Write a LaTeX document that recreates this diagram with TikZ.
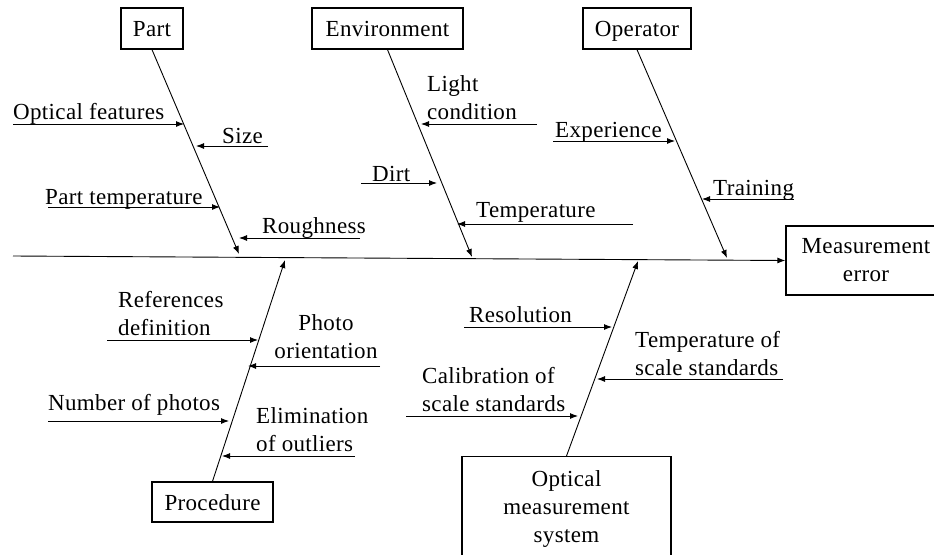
\documentclass[tikz,border=0pt]{standalone}
\usepackage{fontspec}
\setmainfont[LetterSpace=1.5]{Liberation Serif}
\usetikzlibrary{arrows.meta}
\begin{document}
\begin{tikzpicture}[x=1pt,y=-1pt,
  every node/.style={font=\fontsize{23}{28}\selectfont, inner sep=0pt},
  catbox/.style={draw, line width=1.3pt, align=center},
  onebox/.style={catbox, text height=16.5pt, text depth=0pt},
  lbl/.style={anchor=base west, align=left},
  clbl/.style={anchor=base, align=center},
  bone/.style={line width=0.9pt, -{Latex[length=8pt,width=6pt]}},
  cause/.style={line width=0.9pt, -{Latex[length=8pt,width=6pt]}},
]
\useasboundingbox (0,0) rectangle (934,554);
\clip (0,0) rectangle (934,554);

% category boxes
\node[onebox, minimum width=62pt, minimum height=41pt] (part) at (152,28.5) {Part};
\node[onebox, minimum width=151pt, minimum height=41pt] (env) at (387.5,28.5) {Environment};
\node[onebox, minimum width=108pt, minimum height=41pt] (oper) at (637,28.5) {Operator};
\node[catbox, minimum width=160pt, minimum height=69pt] (meas) at (866,260.5) {Measurement\\error};
\node[onebox, minimum width=121pt, minimum height=40pt] (proc) at (212.5,502) {Procedure};
\node[catbox, minimum width=209pt, minimum height=104pt, anchor=north] (optsys) at (566.5,456) {Optical\\measurement\\system};

% spine
\coordinate (sp0) at (13,256);
\draw[bone] (sp0) -- (meas.west);

% bone tips
\coordinate (tpart) at (239,254);
\coordinate (tenv) at (472,257);
\coordinate (toper) at (727,258);
\coordinate (tproc) at (285,260);
\coordinate (topt) at (638,261);

\draw[bone] (part.south) -- (tpart);
\draw[bone] (env.south) -- (tenv);
\draw[bone] (oper.south) -- (toper);
\draw[bone] (proc.north) -- (tproc);
\draw[bone] (optsys.north) -- (topt);

% causes: Part
\coordinate (a1) at (13,124);  \coordinate (b1) at (184,124);
\coordinate (a2) at (268,146); \coordinate (b2) at (196,146);
\coordinate (a3) at (48,207);  \coordinate (b3) at (220,207);
\coordinate (a4) at (360,238); \coordinate (b4) at (239,238);
% Environment
\coordinate (a5) at (537,124); \coordinate (b5) at (421,124);
\coordinate (a6) at (361,183); \coordinate (b6) at (437,183);
\coordinate (a7) at (633,224); \coordinate (b7) at (457,224);
% Operator
\coordinate (a8) at (553,141); \coordinate (b8) at (675,141);
\coordinate (a9) at (794,199); \coordinate (b9) at (702,199);
% Procedure
\coordinate (a10) at (107,340); \coordinate (b10) at (258,340);
\coordinate (a11) at (380,366); \coordinate (b11) at (248,366);
\coordinate (a12) at (48,421);  \coordinate (b12) at (229,421);
\coordinate (a13) at (355,456); \coordinate (b13) at (222,456);
% Optical measurement system
\coordinate (a14) at (464,327); \coordinate (b14) at (612,327);
\coordinate (a15) at (783,379); \coordinate (b15) at (597,379);
\coordinate (a16) at (406,416); \coordinate (b16) at (578,416);

\foreach \i in {1,...,16} {\draw[cause] (a\i) -- (b\i);}

% labels (base = baseline of last line)
\node[lbl] (l1) at (13,119) {Optical features};
\node[lbl] (l2) at (222,143) {Size};
\node[lbl] (l3) at (45,204) {Part temperature};
\node[lbl] (l4) at (262,233) {Roughness};
\node[lbl] (l5) at (427,119) {Light\\condition};
\node[lbl] (l6) at (372,181) {Dirt};
\node[lbl] (l7) at (476,217) {Temperature};
\node[lbl] (l8) at (555,137) {Experience};
\node[lbl] (l9) at (713,195) {Training};
\node[lbl] (l10) at (118,335) {References\\definition};
\node[clbl] (l11) at (326,358) {Photo\\orientation};
\node[lbl] (l12) at (48,410) {Number of photos};
\node[lbl] (l13) at (256,451) {Elimination\\of outliers};
\node[lbl] (l14) at (469,322) {Resolution};
\node[lbl] (l15) at (635,375) {Temperature of\\scale standards};
\node[lbl] (l16) at (422,411) {Calibration of\\scale standards};
\end{tikzpicture}
\end{document}
